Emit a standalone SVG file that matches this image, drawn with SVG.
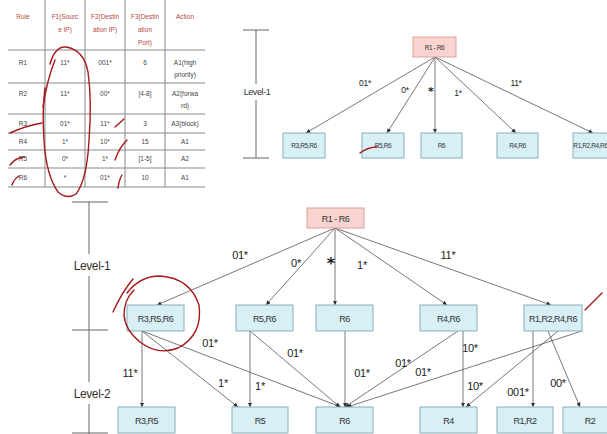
<svg xmlns="http://www.w3.org/2000/svg" width="607" height="434" viewBox="0 0 607 434">
<style>
.bg{fill:#ffffff}
.tl{stroke:#8a8a8a;stroke-width:1;fill:none}
.th{font-family:"Liberation Sans",Arial,sans-serif;font-size:6.5px;fill:#b5473f;text-anchor:middle}
.td{font-family:"Liberation Sans",Arial,sans-serif;font-size:6.5px;fill:#444;text-anchor:middle}
.box{fill:#d8eff6;stroke:#86aebb;stroke-width:1}
.root{fill:#f8d3cf;stroke:#dca39c;stroke-width:1}
.bt{font-family:"Liberation Sans",Arial,sans-serif;font-size:9px;letter-spacing:-0.5px;fill:#333;text-anchor:middle}
.bts{font-family:"Liberation Sans",Arial,sans-serif;font-size:6.5px;letter-spacing:-0.4px;fill:#333;text-anchor:middle}
.e{stroke:#555;stroke-width:0.8;fill:none;marker-end:url(#ah)}
.lb{font-family:"Liberation Sans",Arial,sans-serif;font-size:11px;letter-spacing:-0.3px;fill:#222;text-anchor:middle}
.lbs{font-family:"Liberation Sans",Arial,sans-serif;font-size:8.5px;letter-spacing:-0.3px;fill:#222;text-anchor:middle}
.star{font-family:"DejaVu Sans",sans-serif;font-weight:bold;fill:#222;text-anchor:middle}
.lv{stroke:#666;stroke-width:1;fill:none}
.lvt{font-family:"Liberation Sans",Arial,sans-serif;fill:#333;text-anchor:middle;letter-spacing:-0.4px}
.red{stroke:#a3191c;stroke-width:1.4;fill:none;stroke-linecap:round}
</style>
<defs>
<marker id="ah" viewBox="0 0 6 6" refX="6" refY="3" markerWidth="4.5" markerHeight="4.5" markerUnits="userSpaceOnUse" orient="auto">
<path d="M0,0 L6,3 L0,6 z" fill="#333"/>
</marker>
</defs>
<rect class="bg" x="0" y="0" width="607" height="434"/>

<!-- Table -->
<g id="table">
<g class="tl">
<line x1="8" y1="50" x2="205" y2="50"/>
<line x1="8" y1="83" x2="205" y2="83"/>
<line x1="8" y1="114" x2="205" y2="114"/>
<line x1="8" y1="133" x2="205" y2="133"/>
<line x1="8" y1="150" x2="205" y2="150"/>
<line x1="8" y1="168" x2="205" y2="168"/>
<line x1="8" y1="187" x2="205" y2="187"/>
<line x1="45" y1="0" x2="45" y2="187"/>
<line x1="85" y1="0" x2="85" y2="187"/>
<line x1="125" y1="0" x2="125" y2="187"/>
<line x1="165" y1="0" x2="165" y2="187"/>
</g>
<text class="th" x="23" y="19">Rule</text>
<text class="th" x="65" y="19">F1(Sourc</text>
<text class="th" x="65" y="32">e IP)</text>
<text class="th" x="105" y="19">F2(Destin</text>
<text class="th" x="105" y="32">ation IP)</text>
<text class="th" x="145" y="19">F3(Destin</text>
<text class="th" x="145" y="32">ation</text>
<text class="th" x="145" y="45">Port)</text>
<text class="th" x="185" y="19">Action</text>

<text class="td" x="23" y="65">R1</text>
<text class="td" x="65" y="65">11*</text>
<text class="td" x="105" y="65">001*</text>
<text class="td" x="145" y="65">6</text>
<text class="td" x="185" y="65">A1(high</text>
<text class="td" x="185" y="77">priority)</text>

<text class="td" x="23" y="96">R2</text>
<text class="td" x="65" y="96">11*</text>
<text class="td" x="105" y="96">00*</text>
<text class="td" x="145" y="96">[4-8]</text>
<text class="td" x="185" y="96">A2(forwa</text>
<text class="td" x="185" y="108">rd)</text>

<text class="td" x="23" y="126">R3</text>
<text class="td" x="65" y="126">01*</text>
<text class="td" x="105" y="126">11*</text>
<text class="td" x="145" y="126">3</text>
<text class="td" x="185" y="126">A3(block)</text>

<text class="td" x="23" y="144">R4</text>
<text class="td" x="65" y="144">1*</text>
<text class="td" x="105" y="144">10*</text>
<text class="td" x="145" y="144">15</text>
<text class="td" x="185" y="144">A1</text>

<text class="td" x="23" y="161">R5</text>
<text class="td" x="65" y="161">0*</text>
<text class="td" x="105" y="161">1*</text>
<text class="td" x="145" y="161">[1-5]</text>
<text class="td" x="185" y="161">A2</text>

<text class="td" x="23" y="180">R6</text>
<text class="td" x="65" y="180">*</text>
<text class="td" x="105" y="180">01*</text>
<text class="td" x="145" y="180">10</text>
<text class="td" x="185" y="180">A1</text>
</g>

<!-- Upper level bar -->
<g id="upper-level">
<line class="lv" x1="256" y1="30" x2="256" y2="84"/>
<line class="lv" x1="256" y1="100" x2="256" y2="158"/>
<line class="lv" x1="243" y1="30" x2="269" y2="30"/>
<line class="lv" x1="243" y1="158" x2="269" y2="158"/>
<text class="lvt" x="257" y="95" font-size="9px">Level-1</text>
</g>

<!-- Upper connectors -->
<g id="upper-connectors">
<line class="e" x1="435" y1="57" x2="306" y2="133"/>
<line class="e" x1="435" y1="57" x2="387" y2="133"/>
<line class="e" x1="435" y1="57" x2="435" y2="133"/>
<line class="e" x1="435" y1="57" x2="516" y2="133"/>
<line class="e" x1="435" y1="57" x2="593" y2="133"/>
<text class="lbs" x="365" y="86">01*</text>
<text class="lbs" x="405" y="93">0*</text>
<text class="star" x="431" y="95" font-size="11px">*</text>
<text class="lbs" x="458" y="96">1*</text>
<text class="lbs" x="516" y="86">11*</text>
</g>

<!-- Upper nodes -->
<g id="u-root"><rect class="root" x="413" y="37" width="43" height="20"/><text class="bts" x="434.5" y="49.5">R1 - R6</text></g>
<g id="u-r356"><rect class="box" x="283" y="133" width="42" height="25"/><text class="bts" x="304" y="148">R3,R5,R6</text></g>
<g id="u-r56"><rect class="box" x="362" y="133" width="42" height="25"/><text class="bts" x="383" y="148">R5,R6</text></g>
<g id="u-r6"><rect class="box" x="421" y="133" width="41" height="25"/><text class="bts" x="441.5" y="148">R6</text></g>
<g id="u-r46"><rect class="box" x="497" y="133" width="41" height="25"/><text class="bts" x="517.5" y="148">R4,R6</text></g>
<g id="u-r1246"><rect class="box" x="573" y="133" width="44" height="25"/><text class="bts" x="590.5" y="148" font-size="5.8px" letter-spacing="-0.5px">R1,R2,R4,R6</text></g>

<!-- Lower level bar -->
<g id="lower-level">
<line class="lv" x1="89" y1="202" x2="89" y2="254"/>
<line class="lv" x1="89" y1="276" x2="89" y2="382"/>
<line class="lv" x1="89" y1="404" x2="89" y2="434"/>
<line class="lv" x1="72" y1="202" x2="108" y2="202"/>
<line class="lv" x1="72" y1="330" x2="108" y2="330"/>
<line class="lv" x1="72" y1="433" x2="108" y2="433"/>
<text class="lvt" x="92" y="270" font-size="12px">Level-1</text>
<text class="lvt" x="92" y="398" font-size="12px">Level-2</text>
</g>

<!-- Lower connectors -->
<g id="lower-connectors">
<line class="e" x1="335" y1="228" x2="157" y2="305"/>
<line class="e" x1="335" y1="228" x2="266" y2="305"/>
<line class="e" x1="335" y1="228" x2="335" y2="305"/>
<line class="e" x1="335" y1="228" x2="447" y2="305"/>
<line class="e" x1="335" y1="228" x2="551" y2="305"/>
<line class="e" x1="142" y1="331" x2="142" y2="407"/>
<line class="e" x1="142" y1="331" x2="238" y2="407"/>
<line class="e" x1="142" y1="331" x2="341" y2="407"/>
<line class="e" x1="250" y1="331" x2="250" y2="407"/>
<line class="e" x1="250" y1="331" x2="340" y2="407"/>
<line class="e" x1="345" y1="331" x2="345" y2="407"/>
<line class="e" x1="458" y1="331" x2="345" y2="407"/>
<line class="e" x1="463" y1="331" x2="463" y2="407"/>
<line class="e" x1="582" y1="331" x2="347" y2="407"/>
<line class="e" x1="558" y1="331" x2="466" y2="407"/>
<line class="e" x1="533" y1="331" x2="533" y2="407"/>
<line class="e" x1="548" y1="331" x2="580" y2="407"/>
<text class="lb" x="240" y="259">01*</text>
<text class="lb" x="296" y="267">0*</text>
<text class="star" x="331" y="269" font-size="16px">*</text>
<text class="lb" x="362" y="269">1*</text>
<text class="lb" x="448" y="259">11*</text>
<text class="lb" x="210" y="347">01*</text>
<text class="lb" x="295" y="357">01*</text>
<text class="lb" x="130" y="377">11*</text>
<text class="lb" x="223" y="387">1*</text>
<text class="lb" x="260" y="390">1*</text>
<text class="lb" x="362" y="377">01*</text>
<text class="lb" x="403" y="367">01*</text>
<text class="lb" x="423" y="376">01*</text>
<text class="lb" x="470" y="352">10*</text>
<text class="lb" x="475" y="390">10*</text>
<text class="lb" x="518" y="396">001*</text>
<text class="lb" x="558" y="387">00*</text>
</g>

<!-- Lower nodes -->
<g id="root"><rect class="root" x="307" y="208" width="57" height="20"/><text class="bt" x="335.5" y="221.5">R1 - R6</text></g>
<g id="l1-r356"><rect class="box" x="127" y="305" width="57" height="26"/><text class="bt" x="155.5" y="321.5">R3,R5,R6</text></g>
<g id="l1-r56"><rect class="box" x="236" y="305" width="57" height="26"/><text class="bt" x="264.5" y="321.5">R5,R6</text></g>
<g id="l1-r6"><rect class="box" x="316" y="305" width="57" height="26"/><text class="bt" x="344.5" y="321.5">R6</text></g>
<g id="l1-r46"><rect class="box" x="420" y="305" width="57" height="26"/><text class="bt" x="448.5" y="321.5">R4,R6</text></g>
<g id="l1-r1246"><rect class="box" x="524" y="305" width="58" height="26"/><text class="bt" x="553" y="321.5">R1,R2,R4,R6</text></g>
<g id="l2-r35"><rect class="box" x="118" y="407" width="57" height="26"/><text class="bt" x="146.5" y="423.5">R3,R5</text></g>
<g id="l2-r5"><rect class="box" x="232" y="407" width="56" height="26"/><text class="bt" x="260" y="423.5">R5</text></g>
<g id="l2-r6"><rect class="box" x="316" y="407" width="57" height="26"/><text class="bt" x="344.5" y="423.5">R6</text></g>
<g id="l2-r4"><rect class="box" x="420" y="407" width="57" height="26"/><text class="bt" x="448.5" y="423.5">R4</text></g>
<g id="l2-r12"><rect class="box" x="497" y="407" width="56" height="26"/><text class="bt" x="525" y="423.5">R1,R2</text></g>
<g id="l2-r2"><rect class="box" x="563" y="407" width="57" height="26"/><text class="bt" x="590" y="423.5">R2</text></g>

<!-- Red hand annotations -->
<g id="annotations">
<path class="red" stroke-width="0.8" stroke="#b07070" d="M55,60 Q47,80 43,107"/>
<path class="red" d="M50,64 Q55,46 66,47 Q84,50 88,72 Q92,100 89,140 Q87,180 76,194 Q67,200 58,192 Q46,175 44,140 Q42,110 45,88"/>
<path class="red" d="M10,133 Q25,126 42,123"/>
<path class="red" d="M10,165 Q15,158 24,157"/>
<path class="red" d="M12,185 Q14,179 19,176"/>
<path class="red" d="M115,127 L124,119"/>
<path class="red" d="M115,160 Q119,148 127,140"/>
<path class="red" d="M118,188 Q119,180 122,175"/>
<path class="red" d="M360,153 Q368,147 377,147"/>
<path class="red" d="M113,312 Q122,292 133,279"/>
<path class="red" d="M127,293 Q140,276 160,276 Q190,278 199,305 Q203,335 178,348 Q158,356 140,342 Q125,330 124,315 Q124,300 134,290"/>
<path class="red" d="M585,310 L602,293"/>
</g>
</svg>
